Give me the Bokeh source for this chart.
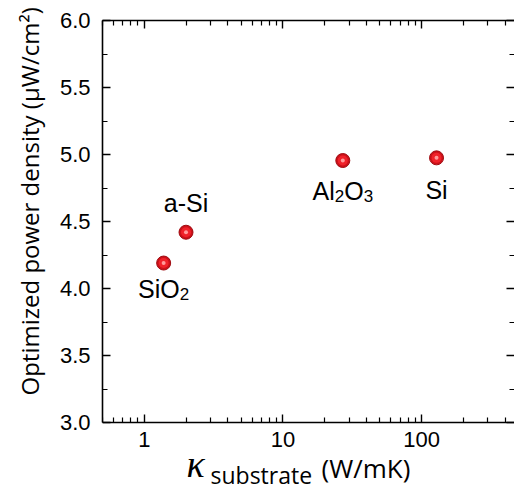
from bokeh.plotting import figure
from bokeh.models import (LogAxis, LinearAxis, FixedTicker, PrintfTickFormatter,
                          CustomJSTickFormatter, ColumnDataSource, Label, Title)
from bokeh.core.properties import value
from bokeh.embed import file_html
from bokeh.resources import INLINE

# ---------------- data ----------------
materials = ["SiO2", "a-Si", "Al2O3", "Si"]
kappa = [1.38, 2.0, 27.0, 128.0]          # W/mK
power = [4.19, 4.42, 4.955, 4.975]        # uW/cm^2

x_major = [1, 10, 100]
x_major_labels = ["1", "10", "100"]
x_minor = [0.5, 0.6, 0.7, 0.8, 0.9, 2, 3, 4, 5, 6, 7, 8, 9,
           20, 30, 40, 50, 60, 70, 80, 90, 200, 300, 400]
y_major = [3.0, 3.5, 4.0, 4.5, 5.0, 5.5, 6.0]
y_minor = [3.25, 3.75, 4.25, 4.75, 5.25, 5.75]

y_title = "Optimized power density (µW/cm²)"
x_title_parts = ["κ", "substrate", "(W/mK)"]

# label placement (style): baseline offset in px below (+) / above (-) the point
label_dy = [26, -29, 30, 32]

# ---------------- figure ----------------
W, H = 514, 491
FL, FT, FB = 102, 20, 2           # frame borders (left, top, bottom)
FBOT = H - FB                     # canvas y of the frame bottom
Y0, Y1 = y_major[0], y_major[-1]
# the frame runs down to the canvas bottom so that the x tick labels and the x title
# can sit inside it; the bottom axis is pinned at y = 3.0
px_per_unit = 134.0
y_start = Y0 - (FBOT - 422) / px_per_unit

p = figure(width=W, height=H, x_axis_type="log", x_range=(0.5, 467), y_range=(y_start, Y1),
           x_axis_location=None, y_axis_location=None,
           output_backend="svg", toolbar_location=None,
           min_border_left=FL, min_border_right=0, min_border_top=FT, min_border_bottom=FB)
p.outline_line_color = None
p.xgrid.visible = False
p.ygrid.visible = False

xt = FixedTicker(ticks=x_major, minor_ticks=x_minor)
yt = FixedTicker(ticks=y_major, minor_ticks=y_minor)
blank = CustomJSTickFormatter(code="return ''")

def style(ax, labels=True):
    ax.axis_line_color = "black"
    ax.axis_line_width = 1.6
    ax.major_tick_in = 8
    ax.major_tick_out = 0
    ax.minor_tick_in = 5
    ax.minor_tick_out = 0
    ax.major_tick_line_width = 1.4
    ax.minor_tick_line_width = 1.2
    ax.major_tick_line_color = "black"
    ax.minor_tick_line_color = "black"
    ax.major_label_text_font = "Liberation Sans"
    ax.major_label_text_font_size = "22px"
    ax.major_label_text_color = "black"
    if not labels:
        ax.major_label_standoff = 0
        ax.major_label_text_font_size = "0px"

bottom = LogAxis(ticker=xt, formatter=blank, fixed_location=Y0)
style(bottom, labels=False)
top = LogAxis(ticker=xt, formatter=blank)
style(top, labels=False)
left = LinearAxis(ticker=yt, formatter=PrintfTickFormatter(format="%.1f"), bounds=(Y0, Y1))
style(left)
left.major_label_standoff = 12
right = LinearAxis(ticker=yt, formatter=blank, bounds=(Y0, Y1))
style(right, labels=False)
right.axis_line_color = None

p.add_layout(bottom, "below")
p.add_layout(top, "above")
p.add_layout(left, "left")
p.add_layout(right, "right")

p.add_layout(Title(text=y_title, align="left", offset=FBOT - 395, standoff=21,
                   text_font="Open Sans", text_font_size="24px", text_font_style="normal",
                   text_color="black"), "left")

# ---------------- x tick labels (at the tick values, just under the axis) ----------------
p.text(x=x_major, y=[Y0] * len(x_major), text=x_major_labels, y_offset=9,
       text_font=value("Liberation Sans"), text_font_size="22px",
       text_align="center", text_baseline="top", text_color="black")

# ---------------- points ----------------
src = ColumnDataSource(dict(x=kappa, y=power))
p.scatter("x", "y", source=src, size=14, fill_color="#cc1119", line_color="#a00c12", line_width=1)
p.scatter("x", "y", source=src, size=10, fill_color="#f0222a", line_color=None)
p.scatter("x", "y", source=src, size=4, fill_color="#ff9a9a", line_color=None)

# ---------------- point labels with subscripts ----------------
ARIAL = {"S": 667, "i": 222, "O": 778, "a": 556, "-": 333, "A": 667, "l": 222}
F_MAIN, F_SUB, SUB_DROP = 25, 17, 5

def parts(name):
    out = []
    for ch in name:
        sub = ch.isdigit()
        if out and out[-1][1] == sub:
            out[-1][0] += ch
        else:
            out.append([ch, sub])
    return out

def width(txt, size):
    return sum(ARIAL.get(c, 556) for c in txt) / 1000.0 * size

cols = dict(x=[], y=[], text=[], xo=[], yo=[], fs=[])
for name, kx, py, dy in zip(materials, kappa, power, label_dy):
    pr = parts(name)
    total = sum(width(t, F_SUB if s else F_MAIN) for t, s in pr)
    cur = -total / 2.0
    for t, s in pr:
        fs = F_SUB if s else F_MAIN
        cols["x"].append(kx)
        cols["y"].append(py)
        cols["text"].append(t)
        cols["xo"].append(cur)
        cols["yo"].append(dy + (SUB_DROP if s else 0))
        cols["fs"].append(f"{fs}px")
        cur += width(t, fs)

lsrc = ColumnDataSource(cols)
p.text("x", "y", text="text", source=lsrc, x_offset="xo", y_offset="yo",
       text_font=value("Liberation Sans"), text_font_size="fs",
       text_align="left", text_baseline="alphabetic", text_color="black")

# ---------------- x-axis title (screen units are relative to the frame's bottom-left) ----------------
def lab(px, baseline_y, text, **kw):
    p.add_layout(Label(x=px - FL, y=FBOT - baseline_y, x_units="screen", y_units="screen",
                       text=text, text_color="black",
                       text_align="left", text_baseline="alphabetic", **kw))

lab(186, 463, x_title_parts[0], text_font="Liberation Serif", text_font_style="italic",
    text_font_size="38px")
lab(210, 474, x_title_parts[1], text_font="Open Sans", text_font_size="23px")
lab(321, 467, x_title_parts[2], text_font="Open Sans", text_font_size="26px")

open("out.html", "w").write(file_html(p, INLINE))
